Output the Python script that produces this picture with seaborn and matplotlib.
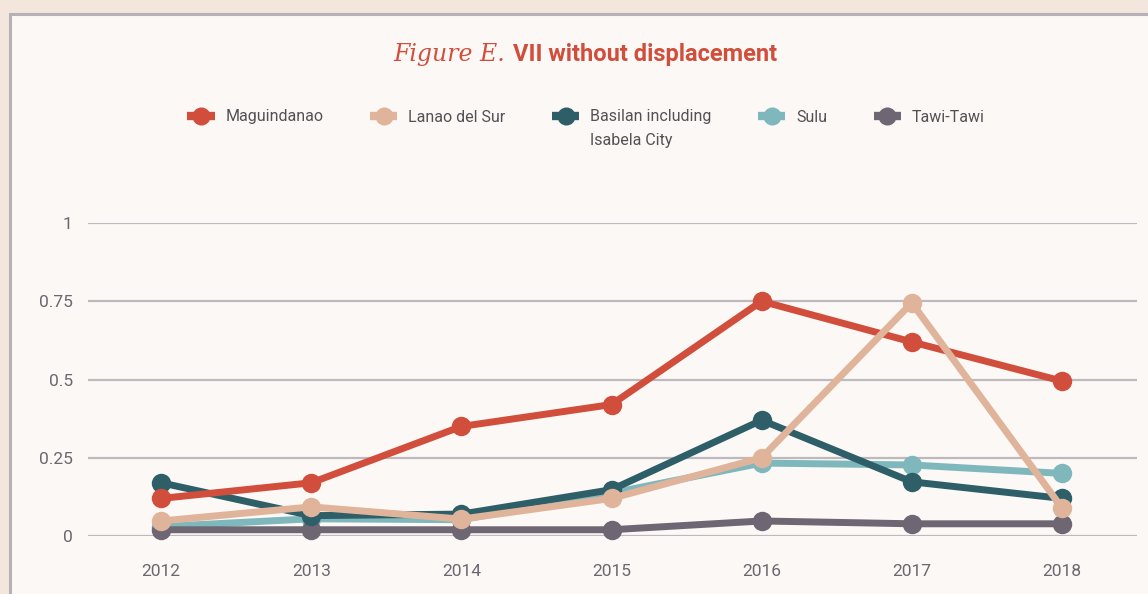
import numpy as np
import pandas as pd
import seaborn as sns
import matplotlib.pyplot as plt
from matplotlib.patches import Rectangle
from matplotlib.lines import Line2D

years = [2012, 2013, 2014, 2015, 2016, 2017, 2018]
maguindanao = [0.12, 0.17, 0.35, 0.42, 0.75, 0.62, 0.495]
lanao_del_sur = [0.048, 0.093, 0.054, 0.12, 0.25, 0.745, 0.09]
basilan = [0.17, 0.065, 0.07, 0.148, 0.37, 0.173, 0.12]
sulu = [0.03, 0.055, 0.052, 0.137, 0.233, 0.227, 0.2]
tawi_tawi = [0.02, 0.02, 0.02, 0.02, 0.048, 0.039, 0.039]

labels = ['Maguindanao', 'Lanao del Sur', 'Basilan including Isabela City', 'Sulu', 'Tawi-Tawi']
colors = ['#d04e3b', '#e0b49a', '#2e5f68', '#7fb8bc', '#6e6672']
series = [maguindanao, lanao_del_sur, basilan, sulu, tawi_tawi]
y_ticks = [0, 0.25, 0.5, 0.75, 1]
y_ticklabels = ['0', '0.25', '0.5', '0.75', '1']

df = pd.DataFrame({'year': np.tile(years, len(labels)),
                   'value': np.concatenate(series),
                   'region': np.repeat(labels, len(years))})

sns.set_theme(style='white')
plt.rcParams['font.family'] = ['Roboto', 'DejaVu Sans']

W, H = 1148, 594
fig = plt.figure(figsize=(W / 100, H / 100), dpi=100)
fig.patch.set_facecolor('#f3e6dc')

# inner panel with grey border
fig.patches.append(Rectangle((10 / W, -0.1), 1.2, (H - 14) / H + 0.1, transform=fig.transFigure,
                             facecolor='#fcf8f5', edgecolor='#b6b1b6', linewidth=2.2, zorder=-5))

ax = fig.add_axes([88 / W, (H - 536) / H, (1137 - 88) / W, 313 / H])
ax.set_facecolor('none')
ax.set_zorder(2)

# drawing order (bottom -> top)
draw_order = [3, 4, 2, 0, 1]
for z, i in enumerate(draw_order):
    sub = df[df['region'] == labels[i]]
    sns.lineplot(data=sub, x='year', y='value', ax=ax, color=colors[i], linewidth=5,
                 marker='o', markersize=14, markeredgewidth=0, zorder=5 + z, clip_on=False,
                 legend=False)

ax.set_xlim(2011.513, 2018.5)
ax.set_ylim(0, 1)
ax.set_xticks(years)
ax.set_xticklabels([str(y) for y in years])
ax.set_yticks(y_ticks)
ax.set_yticklabels(y_ticklabels)
ax.set_xlabel('')
ax.set_ylabel('')
for s in ax.spines.values():
    s.set_visible(False)
ax.grid(axis='y', color='#bdb9be', linewidth=1.6, zorder=1)
ax.set_axisbelow(True)
ax.tick_params(axis='both', length=0, labelsize=12.5, labelcolor='#6c676f')
ax.tick_params(axis='x', pad=20)
ax.tick_params(axis='y', pad=11)

# title
fig.text(505 / W, 1 - 55 / H, 'Figure E.', ha='right', va='center', fontsize=17,
         family='DejaVu Serif', style='italic', color='#d04e3b')
fig.text(513 / W, 1 - 55 / H, 'VII without displacement', ha='left', va='center', fontsize=17,
         fontweight='bold', color='#d04e3b')

# legend (Basilan label wraps onto a second line below)
leg_labels = [l.replace(' Isabela City', '') for l in labels]
handles = [Line2D([0], [0], color=c, linewidth=6, marker='o', markersize=13, markeredgewidth=0,
                  solid_capstyle='butt')
           for c in colors]
leg = fig.legend(handles, leg_labels, ncol=5, loc='center left', bbox_to_anchor=(173 / W, 1 - 117 / H),
                 frameon=False, fontsize=11.5, handlelength=1.7, handletextpad=0.7,
                 columnspacing=2.9, labelcolor='#555055')
fig.canvas.draw()
bt = leg.get_texts()[2].get_window_extent()
fig.text(bt.x0 / W, (bt.y0 - 24) / H, 'Isabela City', ha='left', va='bottom',
         fontsize=11.5, color='#555055')

fig.savefig('out.png', dpi=100, facecolor=fig.get_facecolor())
